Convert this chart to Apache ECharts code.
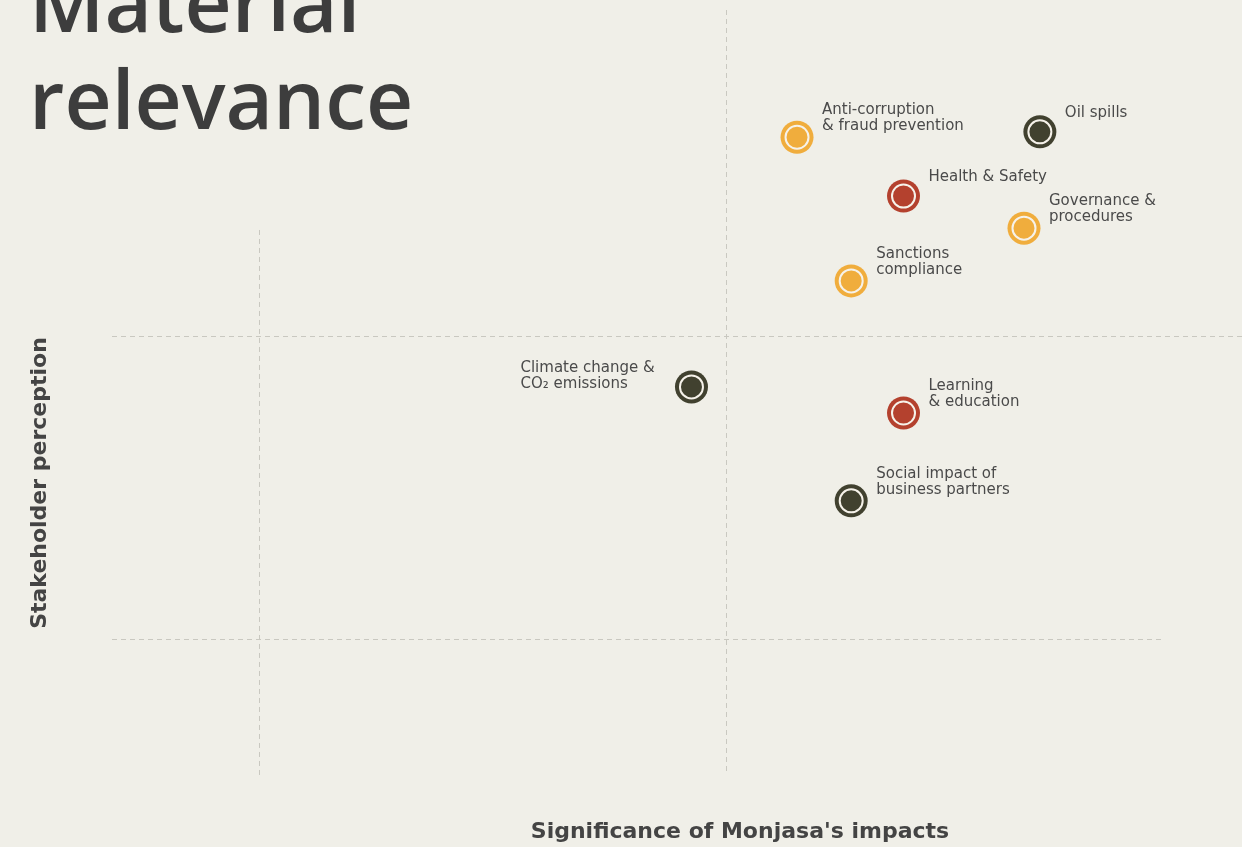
<!DOCTYPE html>
<html>
<head>
<meta charset="utf-8">
<script src="https://cdn.jsdelivr.net/npm/echarts@6/dist/echarts.min.js"></script>
<style>
html,body{margin:0;padding:0;background:#f0efe8;}
#chart{width:1242px;height:847px;}
</style>
</head>
<body>
<div id="chart"></div>
<script>
// ---- data ----
const topics = ['Anti-corruption\n& fraud prevention', 'Oil spills', 'Health & Safety', 'Governance &\nprocedures', 'Sanctions\ncompliance', 'Climate change &\nCO\u2082 emissions', 'Learning\n& education', 'Social impact of\nbusiness partners'];
const impact = [5.76, 8.36, 6.90, 8.19, 6.34, 4.63, 6.90, 6.34];
const perception = [8.28, 8.37, 7.31, 6.78, 5.91, 4.16, 3.73, 2.28];
const group = ['Governance', 'Environment', 'Social', 'Governance', 'Governance', 'Environment', 'Social', 'Environment'];
const groups = ['Governance', 'Social', 'Environment'];
const xDividers = [0, 5];
const yDividers = [0, 5];

// ---- styling ----
const bg = '#f0efe8';
const colors = { Governance: '#f0ad3d', Social: '#b4412e', Environment: '#41412f' };
const labelPlacement = {
  'Oil spills': { position: [41.5, 5.5] },
  'Health & Safety': { position: [41.5, 5.5] },
  'Climate change &\nCO\u2082 emissions': { position: [-154.5, 21.5] }
};
const defaultPlacement = { position: [41.5, 13.5] };
const lineColor = '#c9c8c0';
const titleFont = '"Open Sans", Lato, sans-serif';
const textFont = '"DejaVu Sans", "Open Sans", sans-serif';

const series = [];
groups.forEach(g => {
  const pts = [];
  topics.forEach((t, i) => {
    if (group[i] !== g) return;
    const p = labelPlacement[t] || defaultPlacement;
    pts.push({
      value: [impact[i], perception[i]],
      name: t,
      label: { position: p.position }
    });
  });
  series.push({
    type: 'scatter', name: g, symbol: 'circle', symbolSize: 33, z: 3,
    itemStyle: { color: colors[g], opacity: 1 },
    label: {
      show: true, formatter: '{b}', align: 'left', verticalAlign: 'bottom',
      fontFamily: textFont, fontSize: 15, lineHeight: 16, color: '#4a4a4a'
    },
    emphasis: { disabled: true },
    data: pts
  });
  series.push({
    type: 'scatter', name: g + '-inner', symbol: 'circle', symbolSize: 23, z: 4,
    itemStyle: { color: colors[g], borderColor: '#f6f2ea', borderWidth: 2, opacity: 1 },
    emphasis: { disabled: true },
    silent: true,
    data: pts.map(p => p.value)
  });
});

// divider lines (dashed)
const yMin = -2.244, yMax = 10.38, xMin = -1.574, xMax = 10.524;
series.push({
  type: 'scatter', data: [], silent: true,
  markLine: {
    silent: true, symbol: ['none', 'none'], animation: false,
    label: { show: false },
    lineStyle: { color: lineColor, type: [5, 4], width: 1 },
    data: [
      [{ coord: [xDividers[0], 6.75] }, { coord: [xDividers[0], yMin] }],
      [{ coord: [xDividers[1], yMax] }, { coord: [xDividers[1], yMin] }],
      [{ coord: [xMin, yDividers[1]] }, { coord: [xMax, yDividers[1]] }],
      [{ coord: [xMin, yDividers[0]] }, { coord: [9.67, yDividers[0]] }]
    ]
  }
});

const chart = echarts.init(document.getElementById('chart'), null, { renderer: 'canvas' });
chart.setOption({
  backgroundColor: bg,
  animation: false,
  title: {
    text: 'Material\nrelevance', left: 24, top: -45,
    textStyle: { fontFamily: titleFont, fontWeight: 600, fontSize: 82, lineHeight: 97, color: '#3d3d3d' }
  },
  grid: { left: 112, right: 0, top: 10, bottom: 72 },
  xAxis: { type: 'value', min: xMin, max: xMax, show: false },
  yAxis: { type: 'value', min: yMin, max: yMax, show: false },
  graphic: [
    {
      type: 'text', x: 740, y: 832,
      style: { text: "Significance of Monjasa's impacts", fontFamily: textFont, fontWeight: 'bold', fontSize: 22, fill: '#444444', textAlign: 'center', textVerticalAlign: 'middle' }
    },
    {
      type: 'text', x: 40, y: 483, rotation: Math.PI / 2,
      style: { text: 'Stakeholder perception', fontFamily: textFont, fontWeight: 'bold', fontSize: 22, fill: '#444444', textAlign: 'center', textVerticalAlign: 'middle' }
    }
  ],
  series: series
});
</script>
</body>
</html>
